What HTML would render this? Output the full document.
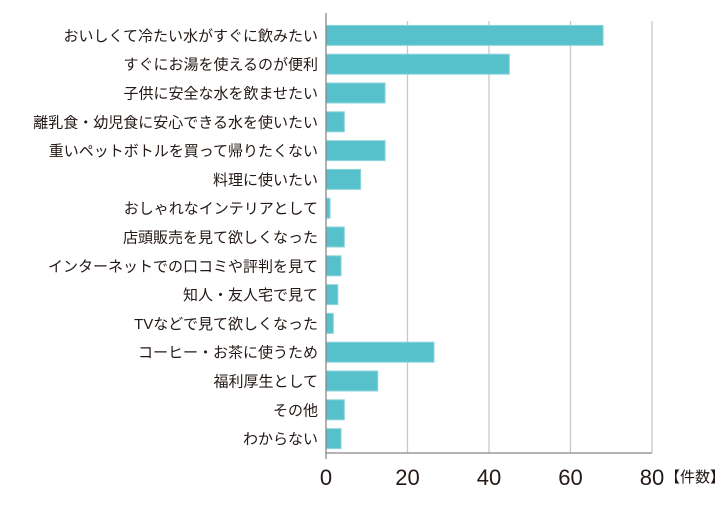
<!DOCTYPE html>
<html><head><meta charset="utf-8"><style>
body{margin:0;background:#fff;}
svg text{font-family:"Liberation Sans","Noto Sans CJK JP",sans-serif;fill:#231815;}
</style></head><body>
<svg id="c" width="728" height="503" xmlns="http://www.w3.org/2000/svg"></svg>
<script>
const categories=["おいしくて冷たい水がすぐに飲みたい","すぐにお湯を使えるのが便利","子供に安全な水を飲ませたい","離乳食・幼児食に安心できる水を使いたい","重いペットボトルを買って帰りたくない","料理に使いたい","おしゃれなインテリアとして","店頭販売を見て欲しくなった","インターネットでの口コミや評判を見て","知人・友人宅で見て","TVなどで見て欲しくなった","コーヒー・お茶に使うため","福利厚生として","その他","わからない"];
const values=[68,45,14.5,4.5,14.5,8.5,1,4.5,3.7,2.9,1.8,26.5,12.7,4.5,3.7];
const ticks=[0,20,40,60,80];
const svgEl=document.getElementById('c');
const NS='http://www.w3.org/2000/svg';
const plotX0=326,plotX1=652,xMax=80,plotTop=21,plotBottom=453;
const pitch=(plotBottom-plotTop)/categories.length;
const xs=v=>plotX0+(plotX1-plotX0)*v/xMax;
function mk(t,a){const e=document.createElementNS(NS,t);for(const k in a)e.setAttribute(k,a[k]);svgEl.appendChild(e);return e;}
ticks.forEach((t,i)=>{
 if(t>0){const g=mk('line',{x1:xs(t),x2:xs(t),y1:plotTop,y2:plotBottom,stroke:'#c8c8c8','stroke-width':1.3});
 
 }
 const l=mk('text',{x:xs(t),y:485,'text-anchor':'middle','font-size':22});
 l.textContent=t;
 
 
});
categories.forEach((c,i)=>{
 const cy=plotTop+pitch*(i+0.5);
 const b=mk('rect',{x:plotX0,y:cy-10,width:xs(values[i])-plotX0,height:20,fill:'#56c0cb',stroke:'#8fd6dd','stroke-width':1});
 
 
 const t=mk('text',{x:318,y:cy+5.5,'text-anchor':'end','font-size':15});
 t.textContent=c;
 
 
});
const ya=mk('line',{x1:plotX0,x2:plotX0,y1:plotTop-8,y2:plotBottom+6,stroke:'#888','stroke-width':1.3});


const xa=mk('line',{x1:plotX0,x2:plotX1,y1:plotBottom,y2:plotBottom,stroke:'#888','stroke-width':1.3});


const u=mk('text',{x:665,y:482,'font-size':15});
u.textContent='【件数】';


</script>
</body></html>
